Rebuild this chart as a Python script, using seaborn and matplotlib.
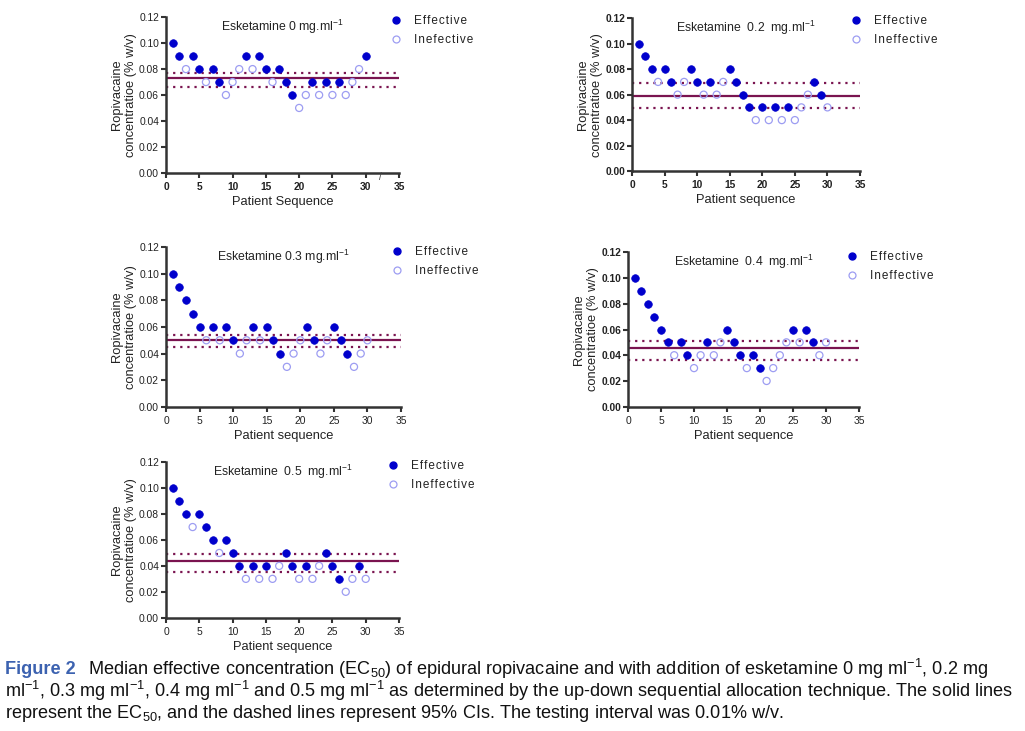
import numpy as np
import pandas as pd
import matplotlib
matplotlib.use("Agg")
import matplotlib.pyplot as plt
from matplotlib.lines import Line2D
import seaborn as sns

# ---------------- data ----------------
patients = list(range(1, 31))

conc_0 = [0.10, 0.09, 0.08, 0.09, 0.08, 0.07, 0.08, 0.07, 0.06, 0.07,
          0.08, 0.09, 0.08, 0.09, 0.08, 0.07, 0.08, 0.07, 0.06, 0.05,
          0.06, 0.07, 0.06, 0.07, 0.06, 0.07, 0.06, 0.07, 0.08, 0.09]
eff_0 = [1, 1, 0, 1, 1, 0, 1, 1, 0, 0, 0, 1, 0, 1, 1, 0, 1, 1, 1, 0,
         0, 1, 0, 1, 0, 1, 0, 0, 0, 1]

conc_02 = [0.10, 0.09, 0.08, 0.07, 0.08, 0.07, 0.06, 0.07, 0.08, 0.07,
           0.06, 0.07, 0.06, 0.07, 0.08, 0.07, 0.06, 0.05, 0.04, 0.05,
           0.04, 0.05, 0.04, 0.05, 0.04, 0.05, 0.06, 0.07, 0.06, 0.05]
eff_02 = [1, 1, 1, 0, 1, 1, 0, 0, 1, 1, 0, 1, 0, 0, 1, 1, 1, 1, 0, 1,
          0, 1, 0, 1, 0, 0, 0, 1, 1, 0]

conc_03 = [0.10, 0.09, 0.08, 0.07, 0.06, 0.05, 0.06, 0.05, 0.06, 0.05,
           0.04, 0.05, 0.06, 0.05, 0.06, 0.05, 0.04, 0.03, 0.04, 0.05,
           0.06, 0.05, 0.04, 0.05, 0.06, 0.05, 0.04, 0.03, 0.04, 0.05]
eff_03 = [1, 1, 1, 1, 1, 0, 1, 0, 1, 1, 0, 0, 1, 0, 1, 1, 1, 0, 0, 0,
          1, 1, 0, 0, 1, 1, 1, 0, 0, 0]

conc_04 = [0.10, 0.09, 0.08, 0.07, 0.06, 0.05, 0.04, 0.05, 0.04, 0.03,
           0.04, 0.05, 0.04, 0.05, 0.06, 0.05, 0.04, 0.03, 0.04, 0.03,
           0.02, 0.03, 0.04, 0.05, 0.06, 0.05, 0.06, 0.05, 0.04, 0.05]
eff_04 = [1, 1, 1, 1, 1, 1, 0, 1, 1, 0, 0, 1, 0, 0, 1, 1, 1, 0, 1, 1,
          0, 0, 0, 0, 1, 0, 1, 1, 0, 0]

conc_05 = [0.10, 0.09, 0.08, 0.07, 0.08, 0.07, 0.06, 0.05, 0.06, 0.05,
           0.04, 0.03, 0.04, 0.03, 0.04, 0.03, 0.04, 0.05, 0.04, 0.03,
           0.04, 0.03, 0.04, 0.05, 0.04, 0.03, 0.02, 0.03, 0.04, 0.03]
eff_05 = [1, 1, 1, 0, 1, 1, 1, 0, 1, 1, 1, 0, 1, 0, 1, 0, 0, 1, 1, 0,
          1, 0, 0, 1, 1, 1, 0, 0, 1, 0]

titles = ["Esketamine 0 mg.ml$^{-1}$", "Esketamine  0.2  mg.ml$^{-1}$",
          "Esketamine 0.3 mg.ml$^{-1}$", "Esketamine  0.4  mg.ml$^{-1}$",
          "Esketamine  0.5  mg.ml$^{-1}$"]
ec50 = [0.0728, 0.0589, 0.0501, 0.0454, 0.0438]
ci_high = [0.0773, 0.0689, 0.0541, 0.0513, 0.0494]
ci_low = [0.0664, 0.0493, 0.0451, 0.0363, 0.0353]
xlabels = ["Patient Sequence", "Patient sequence", "Patient sequence",
           "Patient sequence", "Patient sequence"]
eff_label = "Effective"
ineff_labels = ["Inefective", "Ineffective", "Ineffective", "Ineffective", "Ineffective"]
ylabel = "Ropivacaine\nconcentratioe (% w/v)"
xticks = [0, 5, 10, 15, 20, 25, 30, 35]
yticks = [0.00, 0.02, 0.04, 0.06, 0.08, 0.10, 0.12]

concs = [conc_0, conc_02, conc_03, conc_04, conc_05]
effs = [eff_0, eff_02, eff_03, eff_04, eff_05]

# ---------------- style ----------------
sns.set_theme(style="ticks")
plt.rcParams['font.family'] = ['Liberation Sans', 'DejaVu Sans']
plt.rcParams['mathtext.fontset'] = 'custom'
plt.rcParams['mathtext.rm'] = 'Liberation Sans'

BLUE = "#0000cc"
LIGHT = "#9d9df2"
LINE = "#7a1450"
AXC = "#333333"
HS = "\u200a"


def tracked(s):
    return HS.join(list(s))


W, H = 1025, 731
fig = plt.figure(figsize=(W / 100, H / 100), dpi=100)

# axes boxes in pixels: left, right, top, bottom
boxes = [(166, 399, 17.3, 172.7),
         (632, 860, 18.3, 171.0),
         (166, 401, 247.3, 406.7),
         (628, 859, 252.3, 406.7),
         (166, 399, 462.3, 617.7)]
legend_pos = [(389, 15), (849, 15), (390, 246), (845, 251), (386, 460)]
ybold = [False, True, False, True, False]
xbold = [True, True, False, False, False]

for i in range(5):
    l, r, t, b = boxes[i]
    ax = fig.add_axes([l / W, 1 - b / H, (r - l) / W, (b - t) / H])
    df = pd.DataFrame({"patient": patients, "conc": concs[i], "eff": effs[i]})
    de = df[df.eff == 1]
    di = df[df.eff == 0]
    ax.axhline(ec50[i], color=LINE, lw=1.6, zorder=1)
    ax.axhline(ci_high[i], color=LINE, lw=1.6, ls=(0, (1, 2.2)), zorder=1)
    ax.axhline(ci_low[i], color=LINE, lw=1.6, ls=(0, (1, 2.2)), zorder=1)
    sns.scatterplot(data=di, x="patient", y="conc", ax=ax, marker="o", s=26,
                    facecolors="none", edgecolors=LIGHT, linewidths=0.9, zorder=3)
    sns.scatterplot(data=de, x="patient", y="conc", ax=ax, marker="o", s=30,
                    color=BLUE, edgecolor=BLUE, linewidth=0.5, zorder=4)
    ax.set_xlim(0, 35)
    ax.set_ylim(0, 0.12)
    ax.set_xticks(xticks)
    ax.set_yticks(yticks)
    ax.set_yticklabels([f"{v:.2f}" for v in yticks])
    for sp in ["top", "right"]:
        ax.spines[sp].set_visible(False)
    for sp in ["left", "bottom"]:
        ax.spines[sp].set_linewidth(1.8)
        ax.spines[sp].set_color(AXC)
    ax.tick_params(axis="both", length=3.5, width=1.5, color=AXC, pad=1.5,
                   labelsize=7.4, labelcolor="#222222")
    ax.tick_params(axis="x", pad=3)
    for lab in ax.get_yticklabels():
        lab.set_fontweight("bold" if ybold[i] else "normal")
    for lab in ax.get_xticklabels():
        lab.set_fontweight("bold" if xbold[i] else "normal")
    ax.set_xlabel(xlabels[i], fontsize=9.3, labelpad=3, color="#222222")
    ax.set_ylabel(ylabel, fontsize=9.3, labelpad=1.5, color="#222222", linespacing=1.2)
    ax.text(0.5, 0.995, titles[i], transform=ax.transAxes, ha="center", va="top",
            fontsize=8.8, color="#222222")
    if i == 0:
        ax.text(32.2, -0.0035, "/", fontsize=7, ha="center", va="center",
                color="#444444", clip_on=False)
    handles = [Line2D([], [], ls="none", marker="o", ms=5, mfc=BLUE, mec=BLUE),
               Line2D([], [], ls="none", marker="o", ms=5, mfc="none", mec=LIGHT, mew=0.9)]
    lx, ly = legend_pos[i]
    fig.legend(handles, [tracked(eff_label), tracked(ineff_labels[i])], loc="upper left",
               bbox_to_anchor=(lx / W, 1 - ly / H), frameon=False, fontsize=8.5,
               handlelength=1.2, handletextpad=0.9, labelspacing=0.6,
               borderpad=0, borderaxespad=0, labelcolor="#222222")

# ---------------- caption ----------------
cap_font = ['Liberation Sans', 'DejaVu Sans']
cap_size = 13.1
t1 = fig.text(5 / W, 1 - 669 / H, "Figure 2", fontsize=cap_size, fontweight="bold",
              color="#3c62b0", family=cap_font, va="center", ha="left")
ax0 = fig.axes[0]
ax0.annotate("Median effective concentration (EC$_{50}$) of epidural ropivacaine and with "
             "addition of esketamine 0 mg ml$^{-1}$, 0.2 mg",
             xy=(1, 0.5), xycoords=t1, xytext=(9, 0), textcoords="offset points",
             fontsize=cap_size, family=cap_font, va="center", ha="left",
             annotation_clip=False, color="#111111")
fig.text(5 / W, 1 - 691 / H,
         "ml$^{-1}$, 0.3 mg ml$^{-1}$, 0.4 mg ml$^{-1}$ and 0.5 mg ml$^{-1}$ as determined by the "
         "up-down sequential allocation technique. The solid lines",
         fontsize=cap_size, family=cap_font, va="center", ha="left", color="#111111")
fig.text(5 / W, 1 - 713 / H,
         "represent the EC$_{50}$, and the dashed lines represent 95% CIs. The testing "
         "interval was 0.01% w/v.",
         fontsize=cap_size, family=cap_font, va="center", ha="left", color="#111111")

fig.savefig("out.png", dpi=100)
